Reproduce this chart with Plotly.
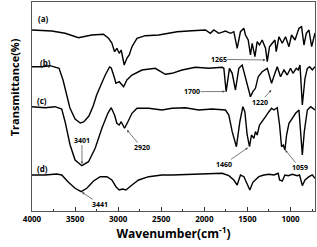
import plotly.graph_objects as go

# Wavenumbers (cm-1) and transmittance (arbitrary, offset) for each spectrum
wn_a = [4000, 3771, 3616, 3460, 3306, 3170, 3112, 3073, 3042, 3015, 2988, 2965, 2930, 2899, 2872, 2840, 2782, 2686, 2530, 2414, 2317, 2143, 1988, 1930, 1890, 1832, 1755, 1697, 1658, 1619, 1581, 1541, 1523, 1491, 1465, 1445, 1413, 1387, 1360, 1329, 1290, 1270, 1244, 1212, 1181, 1166, 1134, 1096, 1058, 1018, 988, 948, 902, 872, 844, 817, 786, 755, 727, 716]
t_a = [181, 180, 177.7, 173.3, 176, 176.7, 172.7, 168, 159.3, 162.7, 157.7, 161, 146, 152.7, 156, 164.3, 172.7, 175.3, 176, 177.7, 179.3, 180.3, 181, 177.7, 181, 177.7, 180, 177.7, 179.3, 162.7, 179.3, 182.7, 176, 171, 156, 167.7, 154.3, 169.3, 166, 171, 162.7, 149.3, 164.3, 167.7, 171, 159.3, 174.3, 167.7, 174.3, 164.3, 176, 171, 182.7, 184.3, 166, 177.7, 181, 164.3, 176, 178]

wn_b = [4000, 3887, 3790, 3713, 3686, 3640, 3600, 3560, 3500, 3440, 3400, 3340, 3290, 3250, 3200, 3150, 3100, 3080, 3050, 3026, 2988, 2937, 2899, 2840, 2724, 2570, 2453, 2375, 2259, 2104, 1949, 1794, 1774, 1747, 1709, 1677, 1639, 1600, 1561, 1541, 1503, 1465, 1437, 1407, 1375, 1329, 1270, 1244, 1220, 1181, 1154, 1116, 1076, 1038, 1000, 972, 933, 910, 890, 863, 832, 805, 778, 747, 716]
t_b = [144.3, 144.3, 145.3, 143.3, 142.7, 131, 116, 103, 92, 88, 89, 95, 105, 116, 126, 136, 144, 143, 135, 127.7, 129.3, 124.3, 131, 136, 141, 142.7, 136.7, 137.7, 141, 143.7, 142.7, 143.7, 142.7, 119.3, 142.7, 137.7, 121, 142.7, 146, 139.3, 129.3, 114.3, 119.3, 122.7, 134.3, 139.3, 142.7, 136, 127.7, 137.7, 144.3, 134.3, 141, 136, 142.7, 137.7, 142.7, 141, 146, 106, 132.7, 142.7, 144.3, 141, 144.3]

wn_c = [4000, 3849, 3733, 3655, 3616, 3558, 3500, 3422, 3344, 3267, 3189, 3120, 3081, 3042, 3015, 2988, 2965, 2926, 2887, 2840, 2782, 2646, 2492, 2375, 2220, 2065, 1910, 1755, 1716, 1677, 1628, 1588, 1553, 1530, 1503, 1476, 1453, 1425, 1407, 1387, 1360, 1329, 1290, 1251, 1220, 1193, 1154, 1127, 1104, 1084, 1065, 1046, 1018, 980, 941, 902, 883, 863, 840, 805, 767, 727, 716]
t_c = [104.3, 103.3, 104.3, 102, 89.3, 66, 51, 45.3, 49.3, 62.7, 82.7, 97.7, 103.3, 96, 87.7, 86, 89.3, 82.7, 89.3, 97.7, 102.7, 102.7, 101, 102.7, 103.3, 101, 102, 101, 96, 79.3, 64.3, 89.3, 104.3, 99.3, 76, 64.3, 76, 72.7, 79.3, 76, 86, 89.3, 94.3, 99.3, 102.7, 101, 103.3, 86, 64.3, 66, 61, 76, 87.7, 92.7, 97.7, 101, 82.7, 56, 79.3, 101, 104.3, 101, 101]

wn_d = [4000, 3850, 3713, 3655, 3577, 3500, 3430, 3364, 3286, 3209, 3131, 3073, 3026, 2988, 2949, 2910, 2840, 2763, 2646, 2492, 2375, 2181, 1988, 1794, 1716, 1658, 1619, 1581, 1541, 1503, 1472, 1437, 1407, 1368, 1309, 1251, 1193, 1143, 1127, 1096, 1065, 1026, 980, 922, 895, 863, 832, 786, 747, 716]
t_d = [36, 36, 37, 36, 28.7, 22.7, 19.3, 22.7, 30, 34.3, 34.3, 31, 24.3, 21, 22, 21, 26, 31, 34.3, 36, 36, 36.7, 37, 37.7, 35.3, 31, 26, 36, 34.3, 27.7, 21, 28.7, 31, 34.3, 36, 36.7, 36, 37.7, 31, 30, 36, 35.3, 36.7, 35.3, 36, 25.3, 31, 34.3, 36, 32.7]

series_labels = ["(a)", "(b)", "(c)", "(d)"]
peak_labels = ["1265", "1700", "1220", "3401", "2920", "3441", "1460", "1059"]

FONT = "Open Sans"
fig = go.Figure()
for wn, t in [(wn_a, t_a), (wn_b, t_b), (wn_c, t_c), (wn_d, t_d)]:
    fig.add_trace(go.Scatter(x=wn, y=t, mode="lines",
                             line=dict(color="black", width=1.4), showlegend=False))

annotations = []
label_pos = [(3861, 193), (3849, 149), (3884, 110.3), (3884, 43)]
for lab, (x, y) in zip(series_labels, label_pos):
    annotations.append(dict(x=x, y=y, xref="x", yref="y", text="<b>%s</b>" % lab,
                            showarrow=False, font=dict(family=FONT, size=8, color="black")))

arrow_pos = [
    ((1834, 151.7), (1290, 151)),
    ((2143, 119.3), (1760, 119.5)),
    ((1351, 108.7), (1223, 121)),
    ((3420, 71), (3420, 47)),
    ((2724, 63.3), (2898, 81)),
    ((3207, 6.7), (3420, 18.7)),
    ((1776, 46.7), (1494, 63.3)),
    ((894, 43.3), (1061, 61)),
]
for lab, ((tx, ty), (hx, hy)) in zip(peak_labels, arrow_pos):
    annotations.append(dict(x=hx, y=hy, ax=tx, ay=ty, xref="x", yref="y",
                            axref="x", ayref="y", text="<b>%s</b>" % lab,
                            showarrow=True, arrowhead=2, arrowsize=0.7, arrowwidth=0.7,
                            arrowcolor="#444444", standoff=0, borderpad=0,
                            font=dict(family=FONT, size=7, color="black")))

annotations.append(dict(x=-0.095, y=0.59, xref="paper", yref="paper",
                        text="<b>Transmittance(%)</b>", textangle=-90, showarrow=False,
                        font=dict(family=FONT, size=11, color="black")))

fig.update_layout(
    width=317, height=247,
    margin=dict(l=32, r=2, t=2, b=36),
    paper_bgcolor="white", plot_bgcolor="white",
    annotations=annotations,
    xaxis=dict(range=[4000, 716], showgrid=False, zeroline=False,
               showline=True, linecolor="#555555", linewidth=1.2, mirror=True,
               tickmode="array", tickvals=[4000, 3500, 3000, 2500, 2000, 1500, 1000],
               ticktext=["<b>4000</b>", "<b>3500</b>", "<b>3000</b>", "<b>2500</b>",
                         "<b>2000</b>", "<b>1500</b>", "<b>1000</b>"],
               ticks="inside", ticklen=4, tickcolor="#333333", tickwidth=1,
               minor=dict(tickvals=[3750, 3250, 2750, 2250, 1750, 1250, 750],
                          ticks="inside", ticklen=2, tickcolor="#333333"),
               tickfont=dict(family=FONT, size=8, color="black"),
               title=dict(text="<b>Wavenumber(cm<sup>-1</sup>)</b>", standoff=4,
                          font=dict(family=FONT, size=12, color="black"))),
    yaxis=dict(range=[0, 209], showgrid=False, zeroline=False, showticklabels=False,
               showline=True, linecolor="#555555", linewidth=1.2, mirror=True, ticks=""),
)
fig.write_html("out.html", config={"displayModeBar": False},
               post_script="document.body.style.margin='0';document.body.style.padding='0';"
                           "document.documentElement.style.overflow='hidden';")
